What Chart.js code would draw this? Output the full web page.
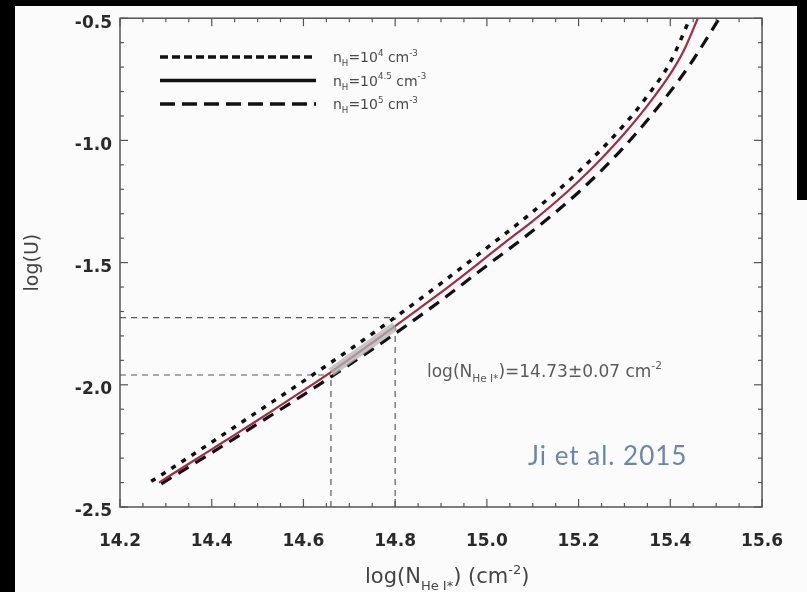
<!DOCTYPE html>
<html>
<head>
<meta charset="utf-8">
<script src="https://cdn.jsdelivr.net/npm/chart.js@4/dist/chart.umd.min.js"></script>
<style>
  html, body { margin: 0; padding: 0; background: #000; overflow: hidden; }
  canvas { display: block; }
</style>
</head>
<body>
<canvas id="c" width="807" height="592"></canvas>
<script>
// Ionization parameter versus He I* column density for three hydrogen densities.

// n_H = 10^4 cm^-3 (dotted)
const nDot = [14.268, 14.30, 14.40, 14.50, 14.60, 14.70, 14.80, 14.90, 15.00, 15.10, 15.20, 15.30, 15.35, 15.40, 15.443];
const uDot = [-2.395, -2.357, -2.235, -2.110, -1.985, -1.857, -1.724, -1.585, -1.440, -1.292, -1.128, -0.935, -0.818, -0.680, -0.500];

// n_H = 10^4.5 cm^-3 (solid)
const nSolid = [14.285, 14.35, 14.40, 14.45, 14.50, 14.55, 14.60, 14.66, 14.70, 14.75, 14.80, 14.85, 14.90, 14.95, 15.00, 15.05, 15.10, 15.15, 15.20, 15.25, 15.30, 15.35, 15.40, 15.43, 15.46];
const uSolid = [-2.400, -2.323, -2.264, -2.205, -2.145, -2.084, -2.023, -1.948, -1.895, -1.828, -1.760, -1.691, -1.622, -1.550, -1.476, -1.402, -1.330, -1.252, -1.167, -1.074, -0.972, -0.858, -0.728, -0.630, -0.500];

// n_H = 10^5 cm^-3 (dashed)
const nDash = [14.29, 14.40, 14.50, 14.60, 14.70, 14.80, 14.90, 15.00, 15.10, 15.20, 15.30, 15.40, 15.45, 15.507];
const uDash = [-2.405, -2.278, -2.160, -2.041, -1.918, -1.790, -1.655, -1.512, -1.370, -1.212, -1.025, -0.800, -0.670, -0.500];

const densityExponents = ['4', '4.5', '5'];

// Measured column density and the matching log U bounds
const nCenter = 14.73;
const nErr = 0.07;
const uBounds = [-1.96, -1.725];

const xTicks = [14.2, 14.4, 14.6, 14.8, 15.0, 15.2, 15.4, 15.6];
const yTicks = [-2.5, -2.0, -1.5, -1.0, -0.5];

const citation = 'Ji et al. 2015';

const pts = (xs, ys) => xs.map((x, i) => ({ x, y: ys[i] }));
const nLo = nCenter - nErr, nHi = nCenter + nErr;
const xMin = xTicks[0], xMax = xTicks[xTicks.length - 1];
const yMin = yTicks[0], yMax = yTicks[yTicks.length - 1];

const solidPts = pts(nSolid, uSolid);
const bandPts = solidPts.filter(p => p.x >= nLo - 1e-6 && p.x <= nHi + 1e-6);

const refStyle = { borderColor: '#5a5a5a', borderWidth: 1.2, borderDash: [6, 5], pointRadius: 0, order: 6 };

const SANS = '"DejaVu Sans", "Liberation Sans", sans-serif';

// Canvas background and the dark frame edges
const backdrop = {
  id: 'backdrop',
  beforeDraw(chart) {
    const { ctx, width, height } = chart;
    ctx.save();
    ctx.fillStyle = '#fbfbfb';
    ctx.fillRect(0, 0, width, height);
    ctx.fillStyle = '#000';
    ctx.fillRect(0, 0, width, 6);
    ctx.fillRect(0, 0, 15, height);
    ctx.fillRect(797, 0, width - 797, 200);
    ctx.restore();
  }
};

// Plot box with inward major and minor ticks on all four sides
const frame = {
  id: 'frame',
  afterDatasetsDraw(chart) {
    const { ctx, chartArea: a, scales: { x, y } } = chart;
    ctx.save();
    ctx.strokeStyle = '#555';
    ctx.lineWidth = 1.5;
    ctx.strokeRect(a.left, a.top, a.right - a.left, a.bottom - a.top);
    ctx.lineWidth = 1.2;
    const seg = (x1, y1, x2, y2) => { ctx.beginPath(); ctx.moveTo(x1, y1); ctx.lineTo(x2, y2); ctx.stroke(); };
    const nx = Math.round((xMax - xMin) / 0.05);
    for (let i = 0; i <= nx; i++) {
      const px = x.getPixelForValue(xMin + i * 0.05);
      const L = i % 4 === 0 ? 8 : 4;
      seg(px, a.bottom, px, a.bottom - L);
      seg(px, a.top, px, a.top + L);
    }
    const ny = Math.round((yMax - yMin) / 0.1);
    for (let i = 0; i <= ny; i++) {
      const py = y.getPixelForValue(yMin + i * 0.1);
      const L = i % 5 === 0 ? 8 : 4;
      seg(a.left, py, a.left + L, py);
      seg(a.right, py, a.right - L, py);
    }
    ctx.restore();
  }
};

// Text with subscripts / superscripts: parts = [text, kind], kind 0 normal, 1 sub, 2 sup
function rich(ctx, parts, x, y, size, family) {
  let cx = x;
  for (const [t, k] of parts) {
    const s = k ? size * 0.62 : size;
    ctx.font = `${s}px ${family}`;
    const dy = k === 1 ? size * 0.32 : k === 2 ? -size * 0.45 : 0;
    ctx.fillText(t, cx, y + dy);
    cx += ctx.measureText(t).width;
  }
  return cx;
}

const annotations = {
  id: 'annotations',
  afterDraw(chart) {
    const { ctx } = chart;
    ctx.save();
    ctx.textBaseline = 'alphabetic';

    // Legend
    const dashes = [[8, 4], [], [15, 7]];
    densityExponents.forEach((e, i) => {
      const ly = 57 + i * 23.5;
      ctx.strokeStyle = '#111';
      ctx.lineWidth = 3.5;
      ctx.setLineDash(dashes[i]);
      ctx.beginPath(); ctx.moveTo(160, ly); ctx.lineTo(316, ly); ctx.stroke();
      ctx.setLineDash([]);
      ctx.fillStyle = '#4a4a4a';
      rich(ctx, [['n', 0], ['H', 1], ['=10', 0], [e, 2], [' cm', 0], ['-3', 2]], 333, ly + 5, 14, SANS);
    });

    // Measured column density label
    ctx.fillStyle = '#5a5a5a';
    rich(ctx, [['log(N', 0], ['He I*', 1], [')=' + nCenter.toFixed(2) + '\u00b1' + nErr.toFixed(2) + ' cm', 0], ['-2', 2]],
      427, 377, 17, SANS);

    // X axis title
    ctx.fillStyle = '#444';
    rich(ctx, [['log(N', 0], ['He I*', 1], [') (cm', 0], ['-2', 2], [')', 0]], 365, 583, 21, SANS);

    // Citation
    ctx.fillStyle = '#6a87ab';
    ctx.font = '26px Lato, "Open Sans", sans-serif';
    ctx.letterSpacing = '1px';
    ctx.fillText(citation, 528, 465);
    ctx.restore();
  }
};

new Chart(document.getElementById('c'), {
  type: 'scatter',
  data: {
    datasets: [
      { data: bandPts, showLine: true, borderColor: 'rgba(180,180,180,0.75)', borderWidth: 9, pointRadius: 0, order: 1 },
      { data: solidPts, showLine: true, borderColor: '#a52a45', borderWidth: 2.2, pointRadius: 0, cubicInterpolationMode: 'monotone', order: 2 },
      { data: pts(nDash, uDash), showLine: true, borderColor: '#111', borderWidth: 3.2, borderDash: [12, 8], pointRadius: 0, cubicInterpolationMode: 'monotone', order: 3 },
      { data: pts(nDot, uDot), showLine: true, borderColor: '#111', borderWidth: 3.5, borderDash: [5, 7], pointRadius: 0, cubicInterpolationMode: 'monotone', order: 4 },
      { data: [{ x: xMin, y: uBounds[1] }, { x: nHi, y: uBounds[1] }], showLine: true, ...refStyle },
      { data: [{ x: nHi, y: yMin }, { x: nHi, y: uBounds[1] }], showLine: true, ...refStyle },
      { data: [{ x: xMin, y: uBounds[0] }, { x: nLo, y: uBounds[0] }], showLine: true, ...refStyle },
      { data: [{ x: nLo, y: yMin }, { x: nLo, y: uBounds[0] }], showLine: true, ...refStyle }
    ]
  },
  options: {
    responsive: false,
    animation: false,
    devicePixelRatio: 1,
    layout: { padding: { left: 0, right: 28, top: 15, bottom: 0 } },
    plugins: { legend: { display: false }, tooltip: { enabled: false } },
    scales: {
      x: {
        type: 'linear', min: xMin, max: xMax,
        afterBuildTicks: s => { s.ticks = xTicks.map(v => ({ value: v })); },
        afterFit: s => { s.height = 85; },
        grid: { display: false, drawTicks: false },
        border: { display: false },
        ticks: {
          padding: 24, color: '#2a2a2a', maxRotation: 0,
          font: { family: SANS, size: 17, weight: 'bold' },
          callback: v => v.toFixed(1)
        }
      },
      y: {
        type: 'linear', min: yMin, max: yMax,
        afterBuildTicks: s => { s.ticks = yTicks.map(v => ({ value: v })); },
        afterFit: s => { s.width = 120; },
        grid: { display: false, drawTicks: false },
        border: { display: false },
        ticks: {
          padding: 8, color: '#2a2a2a', labelOffset: 5,
          font: { family: SANS, size: 17, weight: 'bold' },
          callback: v => v.toFixed(1)
        },
        title: {
          display: true, text: 'log(U)', color: '#444',
          font: { family: SANS, size: 19 },
          padding: { top: 22, bottom: 0 }
        }
      }
    }
  },
  plugins: [backdrop, frame, annotations]
});
</script>
</body>
</html>
